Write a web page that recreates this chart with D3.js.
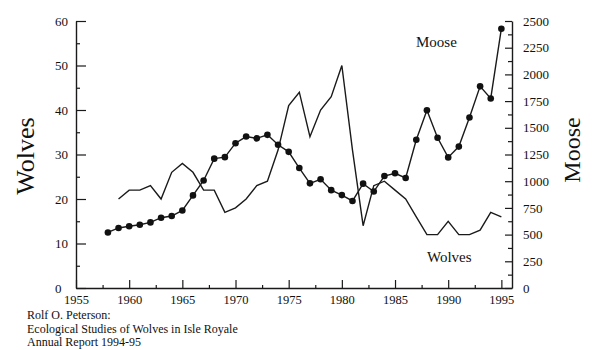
<!DOCTYPE html>
<html><head><meta charset="utf-8">
<script src="https://cdn.jsdelivr.net/npm/d3@7"></script>
<style>
html,body{margin:0;padding:0;background:#fff;}
svg{display:block;}
svg text{font-family:"Liberation Serif","Times New Roman",serif !important;fill:#111;}
</style></head>
<body>
<svg id="chart" width="600" height="350"></svg>
<script>
const mooseYears = d3.range(1958, 1996);
const moose = [520,562,578,592,614,658,674,726,867,1007,1211,1225,1356,1418,1401,1434,1341,1275,1123,980,1018,916,870,815,977,903,1048,1074,1030,1388,1664,1407,1223,1324,1596,1888,1775,2428];
const wolfYears = d3.range(1959, 1996);
const wolves = [20,22,22,23,20,26,28,26,22,22,17,18,20,23,24,31,41,44,34,40,43,50,31,14,23,24,22,20,16,12,12,15,12,12,13,17,16];
const yearTicks = [1955,1960,1965,1970,1975,1980,1985,1990,1995];
const wolfTicks = [0,10,20,30,40,50,60];
const mooseTicks = [0,250,500,750,1000,1250,1500,1750,2000,2250,2500];
const citation = ["Rolf O. Peterson:", "Ecological Studies of Wolves in Isle Royale", "Annual Report 1994-95"];

const svg = d3.select("#chart");
const x = d3.scaleLinear().domain([1955, 1996]).range([76, 512]);
const yW = d3.scaleLinear().domain([0, 60]).range([288, 21]);
const yM = d3.scaleLinear().domain([0, 2500]).range([288, 21]);
const ink = "#1a1a1a";
const fmt = d3.format("d");

function style(g, fs) {
  g.attr("font-family", null);
  g.selectAll("path.domain").attr("stroke", ink).attr("stroke-width", 1.4);
  g.selectAll(".tick line").attr("stroke", ink).attr("stroke-width", 1.2);
  g.selectAll(".tick text").style("font-family", "'Liberation Serif', serif").attr("font-size", fs).attr("fill", "#111");
}

// minor ticks
svg.append("g").attr("transform", "translate(0,288)")
  .call(d3.axisBottom(x).tickValues(d3.range(1957.5, 1996, 5)).tickSize(-3).tickFormat(""))
  .call(g => { g.select(".domain").remove(); style(g, 12); });
svg.append("g").attr("transform", "translate(76,0)")
  .call(d3.axisLeft(yW).tickValues(d3.range(5, 60, 10)).tickSize(-4).tickFormat(""))
  .call(g => { g.select(".domain").remove(); style(g, 13); });
svg.append("g").attr("transform", "translate(512,0)")
  .call(d3.axisRight(yM).tickValues(d3.range(125, 2500, 250)).tickSize(-4).tickFormat(""))
  .call(g => { g.select(".domain").remove(); style(g, 13); });

// major axes
svg.append("g").attr("transform", "translate(0,288)")
  .call(d3.axisBottom(x).tickValues(yearTicks).tickSizeInner(-8).tickSizeOuter(0).tickPadding(7).tickFormat(fmt))
  .call(g => style(g, 12.5));
svg.append("g").attr("transform", "translate(76,0)")
  .call(d3.axisLeft(yW).tickValues(wolfTicks).tickSizeInner(-10).tickSizeOuter(0).tickPadding(21).tickFormat(fmt))
  .call(g => { style(g, 13); g.selectAll(".tick text").attr("text-anchor", "start"); });
svg.append("g").attr("transform", "translate(512,0)")
  .call(d3.axisRight(yM).tickValues(mooseTicks).tickSizeInner(-7).tickSizeOuter(0).tickPadding(11).tickFormat(fmt))
  .call(g => style(g, 13));

// wolves line
const wData = wolfYears.map((yr, i) => [yr, wolves[i]]);
svg.append("path").datum(wData)
  .attr("fill", "none").attr("stroke", ink).attr("stroke-width", 1.4)
  .attr("d", d3.line().x(d => x(d[0])).y(d => yW(d[1])));

// moose line + dots
const mData = mooseYears.map((yr, i) => [yr, moose[i]]);
svg.append("path").datum(mData)
  .attr("fill", "none").attr("stroke", ink).attr("stroke-width", 1.4)
  .attr("d", d3.line().x(d => x(d[0])).y(d => yM(d[1])));
svg.append("g").selectAll("circle").data(mData).join("circle")
  .attr("cx", d => x(d[0])).attr("cy", d => yM(d[1])).attr("r", 3.3).attr("fill", "#111");

// axis titles
svg.append("text").attr("transform", "translate(34,156) rotate(-90)")
  .attr("text-anchor", "middle").attr("font-size", 26).text("Wolves");
svg.append("text").attr("transform", "translate(580,150) rotate(-90)")
  .attr("text-anchor", "middle").attr("font-size", 24).text("Moose");

// in-plot labels
svg.append("text").attr("x", 416).attr("y", 47).attr("font-size", 15).text("Moose");
svg.append("text").attr("x", 427).attr("y", 262).attr("font-size", 15).text("Wolves");

// citation
svg.append("g").selectAll("text").data(citation).join("text")
  .attr("x", 27).attr("y", (d, i) => 319 + i * 13.5).attr("font-size", 12).text(d => d);
</script>
</body></html>
